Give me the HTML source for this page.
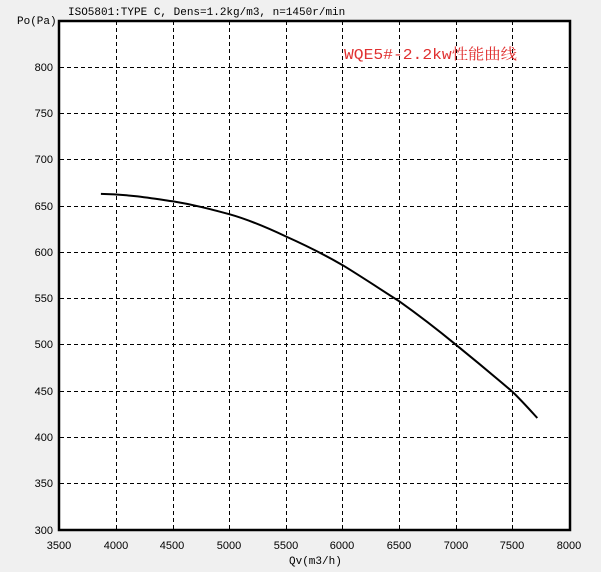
<!DOCTYPE html>
<html><head><meta charset="utf-8"><style>
html,body{margin:0;padding:0;background:#f0f0f0;}
svg{display:block}
</style></head><body>
<svg width="601" height="572" xmlns="http://www.w3.org/2000/svg">
<rect x="0" y="0" width="601" height="572" fill="#f0f0f0"/>
<rect x="59" y="20" width="511" height="510" fill="#fff"/>
<g stroke="#000" stroke-width="1" stroke-dasharray="4,3" shape-rendering="crispEdges">
<line x1="116.5" y1="21" x2="116.5" y2="530"/>
<line x1="173.5" y1="21" x2="173.5" y2="530"/>
<line x1="229.5" y1="21" x2="229.5" y2="530"/>
<line x1="286.5" y1="21" x2="286.5" y2="530"/>
<line x1="342.5" y1="21" x2="342.5" y2="530"/>
<line x1="399.5" y1="21" x2="399.5" y2="530"/>
<line x1="456.5" y1="21" x2="456.5" y2="530"/>
<line x1="512.5" y1="21" x2="512.5" y2="530"/>
<line x1="60" y1="67.5" x2="570" y2="67.5"/>
<line x1="60" y1="113.5" x2="570" y2="113.5"/>
<line x1="60" y1="159.5" x2="570" y2="159.5"/>
<line x1="60" y1="206.5" x2="570" y2="206.5"/>
<line x1="60" y1="252.5" x2="570" y2="252.5"/>
<line x1="60" y1="298.5" x2="570" y2="298.5"/>
<line x1="60" y1="344.5" x2="570" y2="344.5"/>
<line x1="60" y1="391.5" x2="570" y2="391.5"/>
<line x1="60" y1="437.5" x2="570" y2="437.5"/>
<line x1="60" y1="483.5" x2="570" y2="483.5"/>
</g>
<rect x="59" y="21" width="511" height="509" fill="none" stroke="#000" stroke-width="2.5"/>
<path d="M100.9,193.9 C130,194.5 150,198 172.6,201.3 C195,205 210,209 229.3,214.2 C250,220 268,228 286,236.5 C305,245 325,255 342.7,265.2 C362,277 380,289 399.3,301.3 C420,316 438,330 456,344.8 C476,361 494,376 512.7,392 C522,401 530,410 537.3,418" fill="none" stroke="#000" stroke-width="2"/>
<g font-family="Liberation Sans, sans-serif" font-size="11" fill="#000" text-anchor="end">
<text x="53" y="71">800</text>
<text x="53" y="117">750</text>
<text x="53" y="163">700</text>
<text x="53" y="210">650</text>
<text x="53" y="256">600</text>
<text x="53" y="302">550</text>
<text x="53" y="348">500</text>
<text x="53" y="395">450</text>
<text x="53" y="441">400</text>
<text x="53" y="487">350</text>
<text x="53" y="534">300</text>
</g>
<g font-family="Liberation Sans, sans-serif" font-size="11" fill="#000" text-anchor="middle">
<text x="59" y="549">3500</text>
<text x="116" y="549">4000</text>
<text x="172" y="549">4500</text>
<text x="229" y="549">5000</text>
<text x="286" y="549">5500</text>
<text x="342" y="549">6000</text>
<text x="399" y="549">6500</text>
<text x="456" y="549">7000</text>
<text x="512" y="549">7500</text>
<text x="569" y="549">8000</text>
</g>
<g font-family="Liberation Mono, monospace" font-size="11" fill="#000">
<text x="68" y="15">ISO5801:TYPE C, Dens=1.2kg/m3, n=1450r/min</text>
<text x="17" y="24">Po(Pa)</text>
<text x="289" y="564">Qv(m3/h)</text>
</g>
<text x="344" y="59" font-family="Liberation Mono, 'Noto Serif CJK SC', monospace" font-size="15" fill="#e03030" textLength="173" lengthAdjust="spacingAndGlyphs">WQE5#-2.2kw性能曲线</text>
</svg>
</body></html>
